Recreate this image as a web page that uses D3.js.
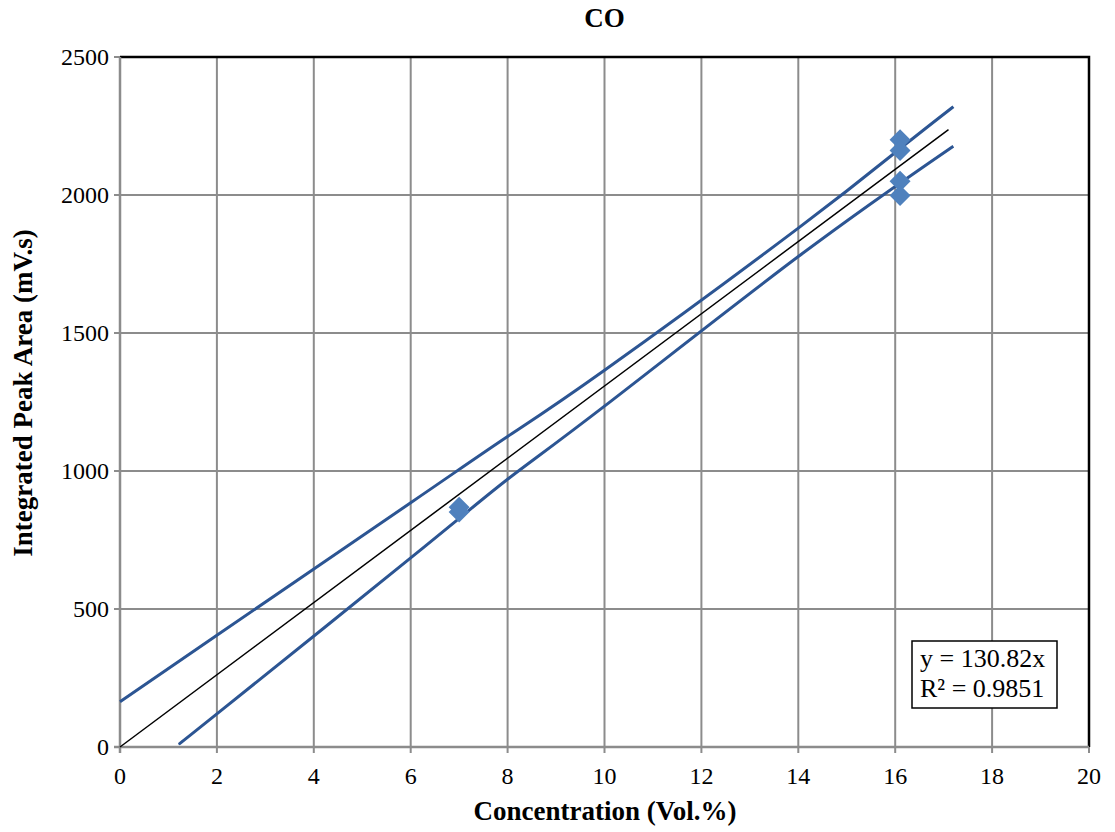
<!doctype html>
<html>
<head>
<meta charset="utf-8">
<title>CO</title>
<script src="https://d3js.org/d3.v7.min.js"></script>
<style>
  body { margin: 0; background: #fff; }
  text { font-family: "Liberation Serif", "Times New Roman", serif; }
</style>
</head>
<body>
<script>
// measured points (concentration vol.%, peak area mV.s)
var concX = [7, 7, 16.1, 16.1, 16.1, 16.1];
var areaY = [851, 869, 2200, 2161, 2050, 1998];
// trend line and the two curved band lines
var trendLine = [[0, 0], [17.1, 2237]];
var upperLine = [[0, 164], [2, 405], [6, 885], [8, 1125], [10, 1365], [14, 1880], [16.1, 2168], [17.2, 2320]];
var lowerLine = [[1.3, 22], [2, 120], [6, 685], [8, 970], [10, 1235], [14, 1777], [17.2, 2177]];
var xTicks = [0, 2, 4, 6, 8, 10, 12, 14, 16, 18, 20];
var yTicks = [0, 500, 1000, 1500, 2000, 2500];

var W = 1115, H = 832;
var m = { left: 120, right: 1089, top: 57, bottom: 747 };

var svg = d3.select("body").append("svg").attr("width", W).attr("height", H);

var x = d3.scaleLinear().domain([0, 20]).range([m.left, m.right]);
var y = d3.scaleLinear().domain([0, 2500]).range([m.bottom, m.top]);

// grid
svg.append("g").selectAll("line").data(xTicks.slice(1)).enter().append("line")
    .attr("x1", function (d) { return x(d); }).attr("x2", function (d) { return x(d); })
    .attr("y1", m.top).attr("y2", m.bottom + 6)
    .attr("stroke", "#8c8c8c").attr("stroke-width", 2);
svg.append("g").selectAll("line").data(yTicks.slice(1)).enter().append("line")
    .attr("x1", m.left - 6).attr("x2", m.right)
    .attr("y1", function (d) { return y(d); }).attr("y2", function (d) { return y(d); })
    .attr("stroke", "#8c8c8c").attr("stroke-width", 2);

// black frame top/right
svg.append("path")
    .attr("d", "M" + m.left + "," + m.top + "H" + m.right + "V" + m.bottom)
    .attr("fill", "none").attr("stroke", "#000").attr("stroke-width", 2.5);

// axes (gray)
svg.append("line").attr("x1", m.left).attr("x2", m.left).attr("y1", m.top).attr("y2", m.bottom + 6)
    .attr("stroke", "#8c8c8c").attr("stroke-width", 2.5);
svg.append("line").attr("x1", m.left - 6).attr("x2", m.right).attr("y1", m.bottom).attr("y2", m.bottom)
    .attr("stroke", "#8c8c8c").attr("stroke-width", 2.5);

// tick labels
svg.append("g").selectAll("text").data(xTicks).enter().append("text")
    .attr("x", function (d) { return x(d); }).attr("y", m.bottom + 37)
    .attr("text-anchor", "middle").attr("font-size", 24).text(function (d) { return d; });
svg.append("g").selectAll("text").data(yTicks).enter().append("text")
    .attr("x", m.left - 11).attr("y", function (d) { return y(d) + 8; })
    .attr("text-anchor", "end").attr("font-size", 24).text(function (d) { return d; });

// lines
var line = d3.line().x(function (d) { return x(d[0]); }).y(function (d) { return y(d[1]); });
var curve = d3.line().curve(d3.curveNatural).x(function (d) { return x(d[0]); }).y(function (d) { return y(d[1]); });
svg.append("path").datum(upperLine).attr("d", curve).attr("stroke", "#2c5593").attr("stroke-width", 3).attr("fill", "none");
svg.append("path").datum(lowerLine).attr("d", curve).attr("stroke", "#2c5593").attr("stroke-width", 3).attr("fill", "none");
svg.append("path").datum(trendLine).attr("d", line).attr("stroke", "#000").attr("stroke-width", 1.5).attr("fill", "none");

// markers (diamonds)
svg.append("g").selectAll("path").data(concX).enter().append("path")
    .attr("d", "M0,-10.5L10.5,0L0,10.5L-10.5,0Z")
    .attr("transform", function (d, i) { return "translate(" + x(d) + "," + y(areaY[i]) + ")"; })
    .attr("fill", "#4f81bd");

// equation box
svg.append("rect").attr("x", 912).attr("y", 641).attr("width", 145).attr("height", 67)
    .attr("fill", "#fff").attr("stroke", "#000").attr("stroke-width", 1.5);
svg.append("text").attr("x", 920).attr("y", 667).attr("font-size", 26).text("y = 130.82x");
svg.append("text").attr("x", 920).attr("y", 697).attr("font-size", 26).text("R² = 0.9851");

// titles
svg.append("text").attr("x", (m.left + m.right) / 2).attr("y", 27).attr("text-anchor", "middle")
    .attr("font-size", 27).attr("font-weight", "bold").text("CO");
svg.append("text").attr("x", 605).attr("y", 820).attr("text-anchor", "middle")
    .attr("font-size", 27).attr("font-weight", "bold").text("Concentration (Vol.%)");
svg.append("text").attr("transform", "translate(32," + 393 + ") rotate(-90)")
    .attr("text-anchor", "middle").attr("font-size", 27).attr("font-weight", "bold")
    .text("Integrated Peak Area (mV.s)");
</script>
</body>
</html>
